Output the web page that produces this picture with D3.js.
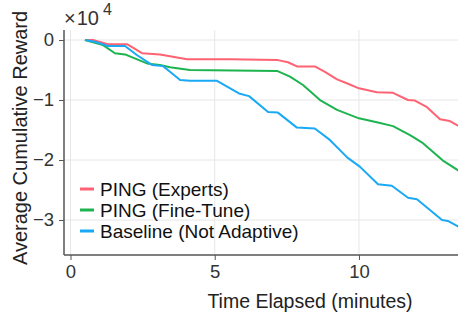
<!DOCTYPE html>
<html><head><meta charset="utf-8">
<script src="https://cdn.jsdelivr.net/npm/d3@7"></script>
<style>body{margin:0;background:#fff}svg{display:block;font-family:"Liberation Sans",Arial,sans-serif}</style>
</head><body><svg id="c" width="458" height="314"></svg>
<script>
const seriesNames = ["PING (Experts)", "PING (Fine-Tune)", "Baseline (Not Adaptive)"];
const seriesColors = ["#ff6272", "#1db44f", "#1aa9f5"];
const xTicks = [0, 5, 10];
const yTicks = [0, -10000, -20000, -30000];
const experts = [[0.5,0],[0.78,0],[1.3,-700],[1.96,-700],[2.48,-2200],[3.1,-2400],[4.04,-3200],[5.53,-3200],[7.19,-3350],[7.54,-3700],[7.85,-4400],[8.47,-4400],[8.82,-5300],[9.24,-6550],[9.58,-7200],[10.0,-8050],[10.62,-8700],[11.18,-8800],[11.7,-10000],[11.94,-10100],[12.36,-11200],[12.81,-13200],[13.15,-13500],[13.5,-14450]];
const fineTune = [[0.5,0],[1.13,-850],[1.54,-2200],[1.89,-2400],[2.65,-3900],[3.1,-4150],[3.45,-4550],[4.14,-5000],[7.16,-5150],[7.61,-6100],[8.06,-7500],[8.65,-10000],[9.24,-11650],[10.0,-13050],[10.62,-13700],[11.18,-14350],[11.77,-15850],[12.22,-17200],[12.91,-20100],[13.5,-21900]];
const baseline = [[0.5,0],[0.85,-300],[1.3,-1000],[1.89,-1000],[2.3,-2500],[2.82,-4150],[3.21,-4350],[3.45,-5300],[3.8,-6650],[4.14,-6800],[5.08,-6800],[5.84,-8900],[6.19,-9350],[6.85,-12000],[7.19,-12100],[7.85,-14600],[8.47,-14750],[8.99,-16650],[9.6,-19600],[10.03,-21100],[10.66,-24050],[11.14,-24300],[11.7,-26300],[12.01,-26550],[12.88,-30000],[13.08,-30150],[13.5,-31250]];
const data = [experts, fineTune, baseline];

const svg = d3.select("#c");
const L = 64, R = 558, T = 30, B = 255;
const x = d3.scaleLinear().domain([-0.225, 16.9]).range([L, R]);
const y = d3.scaleLinear().domain([-35830, 1670]).range([B, T]);

// grid
svg.append("g").selectAll("line").data(xTicks).join("line")
  .attr("x1", d => x(d)).attr("x2", d => x(d)).attr("y1", T).attr("y2", B)
  .attr("stroke", "#e6e6e6").attr("stroke-width", 1);
svg.append("g").selectAll("line").data(yTicks).join("line")
  .attr("x1", L).attr("x2", R).attr("y1", d => y(d)).attr("y2", d => y(d))
  .attr("stroke", "#e6e6e6").attr("stroke-width", 1);

// lines
const line = d3.line().x(d => x(d[0])).y(d => y(d[1]));
data.forEach((s, i) => {
  svg.append("path").datum(s).attr("d", line).attr("fill", "none")
    .attr("stroke", seriesColors[i]).attr("stroke-width", 2).attr("stroke-linejoin", "round");
});

// axes
const xAxis = d3.axisBottom(x).tickValues(xTicks).tickSize(5).tickPadding(5).tickFormat(d3.format("d"));
const gx = svg.append("g").attr("transform", `translate(0,${B})`).call(xAxis);
const yAxis = d3.axisLeft(y).tickValues(yTicks).tickSize(5).tickPadding(5).tickFormat(d => d3.format("d")(d / 10000));
const gy = svg.append("g").attr("transform", `translate(${L},0)`).call(yAxis);
[gx, gy].forEach(g => {
  g.attr("font-size", null).attr("font-family", null);
  g.select(".domain").attr("stroke", "#555").attr("stroke-width", 1.5);
  g.selectAll(".tick line").attr("stroke", "#555");
  g.selectAll(".tick text").attr("fill", "#333").style("font-size", "18.5px");
});
gx.select(".domain").attr("d", `M${L},0H${R}`);
gy.select(".domain").attr("d", `M0,${B}V${T}`);

// exponent
const ex = svg.append("text").attr("x", 64).attr("y", 25).attr("fill", "#333").style("font-size", "20px");
ex.append("tspan").text("×");
ex.append("tspan").attr("dx", 1).text("10");
ex.append("tspan").attr("dx", 4).attr("dy", -10).style("font-size", "16px").text("4");

// axis labels
svg.append("text").attr("x", 310).attr("y", 308).attr("text-anchor", "middle").attr("fill", "#222")
  .style("font-size", "19.5px").text("Time Elapsed (minutes)");
svg.append("text").attr("transform", "translate(27,138) rotate(-90)").attr("text-anchor", "middle").attr("fill", "#222")
  .style("font-size", "20px").text("Average Cumulative Reward");

// legend
const leg = svg.append("g");
seriesNames.forEach((n, i) => {
  const yy = 189 + i * 21;
  leg.append("line").attr("x1", 80).attr("x2", 94).attr("y1", yy).attr("y2", yy)
    .attr("stroke", seriesColors[i]).attr("stroke-width", 3);
  leg.append("text").attr("x", 100).attr("y", yy + 7).attr("fill", "#111").style("font-size", "19px").text(n);
});
</script></body></html>
